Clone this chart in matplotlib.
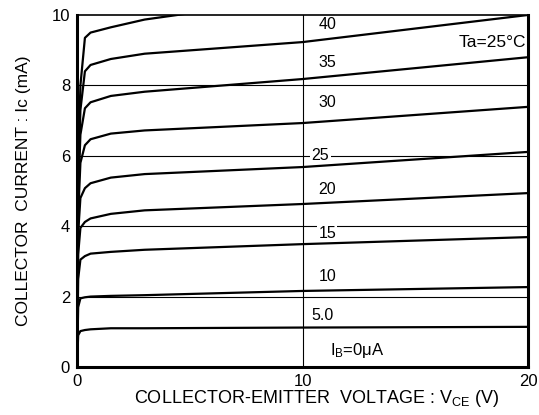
import matplotlib
matplotlib.use("Agg")
import matplotlib.pyplot as plt

plt.rcParams['font.family'] = ['Liberation Sans', 'DejaVu Sans']
plt.rcParams['mathtext.fontset'] = 'custom'
plt.rcParams['mathtext.rm'] = 'Liberation Sans'
plt.rcParams['mathtext.it'] = 'Liberation Sans'

vce = [0, 0.05, 0.15, 0.35, 0.6, 1.5, 3, 10, 20]
ib_labels = ["5.0", "10", "15", "20", "25", "30", "35", "40", None]
ic_5 = [0, 0.9, 1.02, 1.05, 1.07, 1.1, 1.1, 1.12, 1.14]
ic_10 = [0, 1.7, 1.95, 1.98, 2.0, 2.02, 2.04, 2.16, 2.27]
ic_15 = [0, 2.5, 3.05, 3.15, 3.22, 3.27, 3.33, 3.49, 3.69]
ic_20 = [0, 3.2, 3.95, 4.12, 4.22, 4.35, 4.45, 4.63, 4.94]
ic_25 = [0, 3.8, 4.8, 5.08, 5.22, 5.38, 5.48, 5.68, 6.11]
ic_30 = [0, 4.3, 5.8, 6.3, 6.47, 6.63, 6.72, 6.93, 7.39]
ic_35 = [0, 4.8, 6.6, 7.35, 7.52, 7.7, 7.82, 8.18, 8.8]
ic_40 = [0, 5.2, 7.3, 8.4, 8.58, 8.75, 8.9, 9.23, 10.0]
ic_45 = [0, 5.6, 8.0, 9.35, 9.5, 9.65, 9.87, 10.5, 11.2]
curves = [ic_5, ic_10, ic_15, ic_20, ic_25, ic_30, ic_35, ic_40, ic_45]

# label positions (data coords) for each curve label
label_x = [10.4, 10.7, 10.7, 10.7, 10.4, 10.7, 10.7, 10.7]
label_y = [1.45, 2.56, 3.8, 5.03, 6.02, 7.5, 8.64, 9.72]

fig = plt.figure(figsize=(5.39, 4.15), dpi=100)
ax = fig.add_axes([0.1429, 0.1157, 0.9796 - 0.1429, 0.9639 - 0.1157])

for y in [2, 4, 6, 8]:
    ax.axhline(y, color='black', lw=0.8, zorder=1)
ax.axvline(10, color='black', lw=0.8, zorder=1)

for ic in curves:
    ax.plot(vce, ic, color='black', lw=1.6, zorder=3, solid_joinstyle='round')

for lab, lx, ly in zip(ib_labels, label_x, label_y):
    if lab is None:
        continue
    bg = dict(facecolor='white', edgecolor='none', pad=1.0) if lab in ("25", "15") else None
    ax.text(lx, ly, lab, fontsize=11.5, ha='left', va='center', bbox=bg, zorder=2)

ax.text(11.2, 0.48, r'I$\mathregular{_B}$=0$\mathregular{\mu}$A', fontsize=12, ha='left', va='center')
ax.text(19.9, 9.23, 'Ta=25°C', fontsize=12.5, ha='right', va='center')

ax.set_xlim(0, 20)
ax.set_ylim(0, 10)
ax.set_xticks([0, 10, 20])
ax.set_yticks([0, 2, 4, 6, 8, 10])
ax.tick_params(length=0, labelsize=12, pad=5)
for s in ['left', 'bottom', 'right']:
    ax.spines[s].set_linewidth(2.2)
ax.spines['top'].set_linewidth(1.2)

ax.set_xlabel(r'COLLECTOR-EMITTER  VOLTAGE : V$\mathregular{_{CE}}$ (V)', fontsize=13, labelpad=-1)
ax.xaxis.label.set_x(0.532)
ax.set_ylabel(r'COLLECTOR  CURRENT : Ic (mA)', fontsize=12.5, labelpad=15)

fig.savefig('out.png', dpi=100)
